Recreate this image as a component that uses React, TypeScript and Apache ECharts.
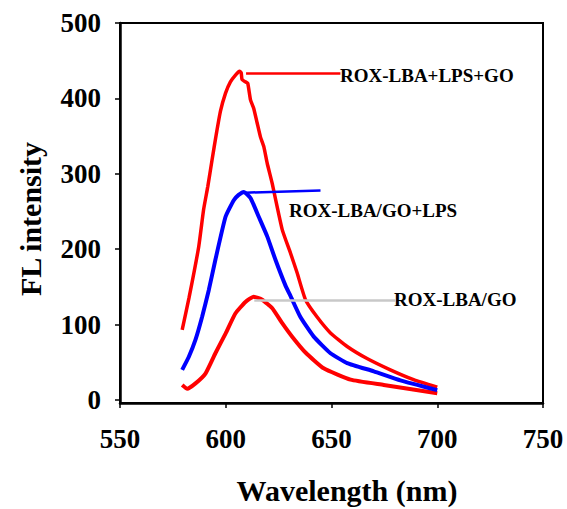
import React, { useEffect, useRef } from "react";
import * as echarts from "echarts";

// ROX-LBA+LPS+GO (upper red)
const seriesA: [number, number][] = [
  [579.4, 93], [582.6, 135], [587.2, 203], [589.5, 252], [591.5, 283], [593.5, 318],
  [595.5, 352], [597.5, 383], [599.9, 407], [602.2, 422], [604.6, 431], [606.5, 436], [607.3, 434],
  [607.7, 425], [609.3, 422], [610.4, 420], [611.7, 398], [613.2, 387], [614.8, 368],
  [616.4, 349], [618, 336], [619.6, 314], [621.9, 288], [626.7, 226], [630.6, 195],
  [633.7, 169], [637.7, 133], [643.2, 110], [649.5, 89], [657.4, 71], [666.8, 55],
  [677.8, 40], [688.8, 27], [700, 17],
];
// ROX-LBA/GO+LPS (blue)
const seriesB: [number, number][] = [
  [579.4, 40], [582.5, 57], [585.7, 80], [588.8, 110], [592, 146], [595.1, 186],
  [599.9, 243], [603.8, 265], [606.1, 272], [608.5, 276], [611.7, 268], [615.6, 243],
  [619.6, 217], [623.5, 186], [628.2, 152], [630.6, 138], [635.3, 110], [641.6, 84],
  [649.5, 62], [657.4, 49], [670, 38], [682.6, 26], [700, 13],
];
// ROX-LBA/GO (lower red)
const seriesC: [number, number][] = [
  [579.4, 20], [581.8, 15], [585.7, 22], [590.4, 35], [595.1, 62], [599.9, 88],
  [604.6, 115], [609.3, 130], [613.2, 137], [617.2, 133], [621.9, 122], [626.7, 102],
  [631.4, 84], [637.7, 63], [646.3, 42], [659, 27], [674.7, 20], [700, 9],
];
const xTicks = [550, 600, 650, 700, 750];
const yTicks = [0, 100, 200, 300, 400, 500];
const labels = ["ROX-LBA+LPS+GO", "ROX-LBA/GO+LPS", "ROX-LBA/GO"];
const leaderA: [number, number][] = [[609.6, 433], [654.2, 433]];
const leaderB: [number, number][] = [[609.3, 275], [644.8, 278]];
const leaderC: [number, number][] = [[613.5, 132.5], [680.5, 132.5]];

const FONT = '"Liberation Serif", "Times New Roman", serif';

export default function App() {
  const ref = useRef<HTMLDivElement>(null);
  useEffect(() => {
    const chart = echarts.init(ref.current!, null, { renderer: "svg" });
    const leader = (pts: [number, number][], color: string) => ({
      silent: true,
      symbol: ["none", "none"],
      label: { show: false },
      lineStyle: { color, width: 2.5, type: "solid" },
      data: [[{ coord: pts[0] }, { coord: pts[1] }]],
    });
    chart.setOption({
      animation: false,
      grid: {
        left: 120, right: 24, top: 23, bottom: 106,
        show: true, borderColor: "#000", borderWidth: 2, backgroundColor: "transparent",
      },
      xAxis: {
        type: "value", min: 550, max: 750, interval: 50,
        axisLine: { onZero: false, lineStyle: { color: "#000", width: 2.5 } },
        axisTick: { show: true, length: 5, lineStyle: { color: "#000", width: 1.5 } },
        axisLabel: {
          margin: 22, color: "#000", fontFamily: FONT, fontWeight: "bold", fontSize: 27,
          customValues: xTicks,
        },
        splitLine: { show: false },
      },
      yAxis: {
        type: "value", min: -4, max: 500,
        axisLine: { show: true, lineStyle: { color: "#000", width: 2.5 } },
        axisTick: {
          show: true, length: 5, lineStyle: { color: "#000", width: 1.5 },
          customValues: yTicks,
        },
        axisLabel: {
          margin: 19, color: "#000", fontFamily: FONT, fontWeight: "bold", fontSize: 27,
          customValues: yTicks,
        },
        splitLine: { show: false },
      },
      series: [
        {
          type: "line", data: seriesA, showSymbol: false, smooth: 0.15,
          lineStyle: { color: "#ff0000", width: 3.5 }, z: 3,
          markLine: leader(leaderA, "#ff0000"),
        },
        {
          type: "line", data: seriesB, showSymbol: false, smooth: 0.15,
          lineStyle: { color: "#0000ff", width: 4 }, z: 4,
          markLine: leader(leaderB, "#0000ff"),
        },
        {
          type: "line", data: seriesC, showSymbol: false, smooth: 0.15,
          lineStyle: { color: "#ff0000", width: 4 }, z: 3,
          markLine: leader(leaderC, "#c8c8c8"),
        },
      ],
      graphic: [
        {
          type: "text", left: 340, top: 66,
          style: { text: labels[0], font: `bold 19px ${FONT}`, fill: "#000" },
        },
        {
          type: "text", left: 289, top: 201,
          style: { text: labels[1], font: `bold 19px ${FONT}`, fill: "#000" },
        },
        {
          type: "text", left: 394, top: 290,
          style: { text: labels[2], font: `bold 19px ${FONT}`, fill: "#000" },
        },
        {
          type: "text", x: 347, y: 490,
          style: {
            text: "Wavelength (nm)", font: `bold 30px ${FONT}`, fill: "#000",
            align: "center", verticalAlign: "middle",
          },
        },
        {
          type: "text", x: 30, y: 219, rotation: Math.PI / 2,
          style: {
            text: "FL intensity", font: `bold 30px ${FONT}`, fill: "#000",
            align: "center", verticalAlign: "middle",
          },
        },
      ],
    });
    return () => chart.dispose();
  }, []);
  return <div ref={ref} style={{ width: 567, height: 509, position: "absolute", left: 0, top: 0 }} />;
}
